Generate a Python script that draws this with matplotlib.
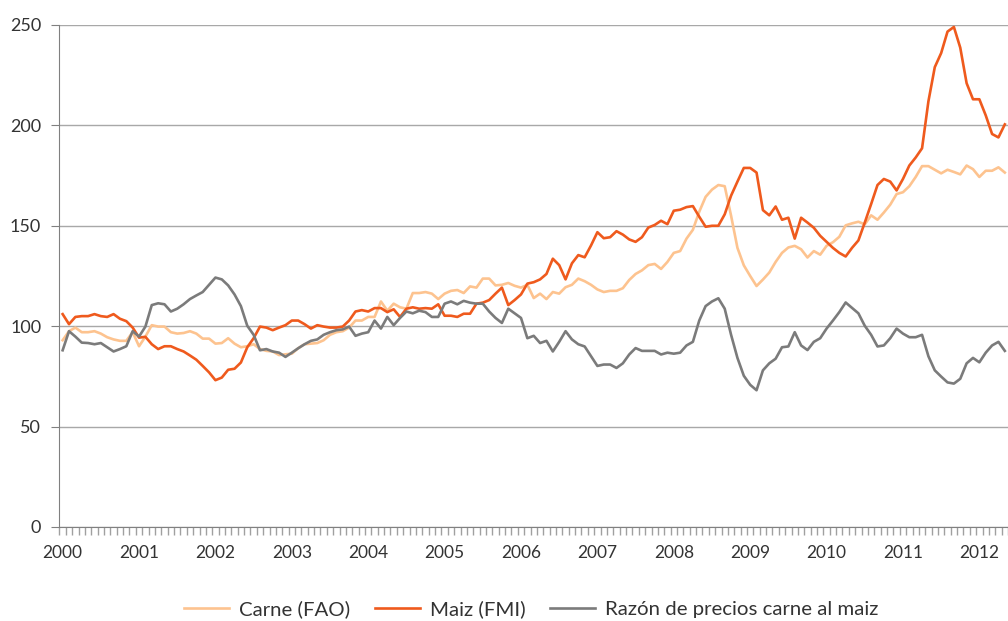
import numpy as np
import matplotlib
matplotlib.use("Agg")
import matplotlib.pyplot as plt

# indices mensuales, base enero 2000
carne = [93, 97.5, 99.3, 97, 97, 97.5, 96.3, 94.5, 93.4, 92.7,
         92.7, 97, 90, 94.8, 100.5, 99.8, 99.8, 97, 96.3, 96.6,
         97.5, 96.3, 93.8, 93.8, 91.3, 91.6, 94, 91.3, 89.5, 90,
         91, 88.6, 87.7, 87.4, 85.6, 86, 86.3, 89, 91, 91.3,
         91.6, 93, 95.7, 97,
         97.5, 99.3, 102.8, 102.8, 104.6, 104.6, 112.3, 107.7, 111.2, 109.4,
         108.7, 116.5, 116.5, 117, 116.2, 113.5, 116.2, 117.6, 118, 116.5,
         119.8, 119.2, 123.7, 123.7, 120.3, 120.6, 121.5, 120.1, 119.2, 120.6,
         114, 116.2, 113.5, 117, 116.2, 119.4, 120.6, 123.7, 122.4, 120.6,
         118.3, 117, 117.6, 117.6, 118.9, 123, 126, 127.8, 130.4, 131,
         128.5, 132,
         136.5, 137.4, 143.6, 148, 157, 164.4, 168, 170.3, 169.7, 155,
         139, 130.3, 125, 120, 123.2, 126.7, 132, 136.5, 139.2, 140,
         138.3, 134.2, 137.4, 135.6, 140, 141.8, 144.5, 150.2, 151.2, 152,
         150.7, 155.2, 153, 156.6, 160.5, 165.8, 166.7, 169.7, 174.3, 179.7,
         179.7, 177.9, 176.1, 177.9, 176.8, 175.6, 180, 178.2, 174.3, 177.4,
         177.4, 179.1, 176.5]

maiz = [106, 101, 104.6, 105, 105, 106, 105, 104.6, 106, 103.7,
        102.5, 99.3, 94.3, 94.7, 91, 88.6, 90, 90, 88.6, 87.4,
        85.4, 83.3, 80.2, 77, 73.1, 74.4, 78.3, 78.8, 81.9, 89.5,
        94, 99.8, 99.3, 98, 99.3, 100.5, 102.8, 102.8, 101, 98.8,
        100.5, 99.8, 99.3, 99.3,
        99.8, 102.8, 107.3, 108, 107.3, 109, 109, 107, 108.4, 104.6,
        108.7, 109.4, 108.7, 109, 108.7, 110.9, 105.2, 105.2, 104.6, 106.2,
        106.2, 111.2, 111.7, 113, 116.2, 119.2, 110.5, 113, 115.8, 121.2,
        121.9, 123.3, 126, 133.6, 130.4, 123.3, 131.3, 135.4, 134.3, 140.2,
        146.8, 143.8, 144.3, 147.3, 145.6, 143.2, 142, 144.3, 149.1, 150.4,
        152.5, 150.8,
        157.5, 158, 159.3, 159.8, 154.5, 149.5, 150, 150, 155.7, 165,
        172, 178.8, 178.8, 176.5, 157.8, 155.2, 159.6, 153, 154, 143.6,
        154, 151.6, 149, 145, 142, 139, 136.5, 134.7, 139, 142.7,
        151.6, 160.8, 170.3, 173.3, 172, 167.6, 173.3, 180, 184, 188.6,
        212, 229, 236, 246.7, 249, 238.7, 221, 213, 213, 205,
        195.7, 194, 200.5]

razon = [88, 97.5, 94.8, 91.8, 91.6, 91, 91.6, 89.5, 87.4, 88.6,
         90, 97.5, 94.8, 99.8, 110.5, 111.4, 110.9, 107.3, 108.7, 110.9,
         113.5, 115.3, 117, 120.6, 124.2, 123.3, 120.3, 115.8, 110, 100.2,
         95.7, 88, 88.6, 87.4, 86.8, 84.7, 86.8, 89, 91, 92.7,
         93.4, 95.7, 97, 98,
         98.4, 99.8, 95.2, 96.3, 97, 102.8, 98.8, 104.6, 100.5, 104.1,
         107.3, 106.4, 107.7, 107, 104.6, 104.6, 111.2, 112.3, 110.9, 112.6,
         111.7, 111.2, 111.2, 107.3, 104.1, 101.6, 108.7, 106.4, 104.1, 94,
         95.2, 91.6, 92.7, 87.4, 92.2, 97.5, 93.4, 91, 89.9, 85,
         80.2, 80.9, 80.9, 79.2, 81.5, 85.9, 89.1, 87.7, 87.7, 87.7,
         85.9, 86.8,
         86.3, 86.8, 90.4, 92.2, 102.8, 110, 112.3, 113.9, 108.7, 95.7,
         84.2, 75.3, 70.8, 68.1, 78, 81.5, 83.8, 89.5, 89.9, 97,
         90.4, 88.1, 92.2, 94, 98.8, 102.8, 107, 111.8, 109.1, 106.4,
         100.2, 95.7, 89.9, 90.4, 94, 98.8, 96.3, 94.5, 94.5, 95.7,
         85, 78, 74.9, 72, 71.4, 73.8, 81.5, 84.2, 82, 86.8,
         90.4, 92.2, 87.7]

years = list(range(2000, 2013))
labels = ["Carne (FAO)", "Maiz (FMI)", "Razón de precios carne al maiz"]

meses = np.arange(len(maiz))

plt.rcParams['font.family'] = ['Lato', 'DejaVu Sans']

fig = plt.figure(figsize=(10.08, 6.21), dpi=100)
ax = fig.add_axes([0.0588, 0.1514, 0.9412, 0.8084])

ax.plot(meses, carne, color="#fdc38f", lw=1.9, label=labels[0])
ax.plot(meses, maiz, color="#ef5a1d", lw=1.9, label=labels[1])
ax.plot(meses, razon, color="#7b7b7b", lw=1.9, label=labels[2])

ax.set_ylim(0, 250)
ax.set_xlim(-0.53, 148.2)
ax.set_yticks(np.arange(0, 251, 50))
ax.yaxis.grid(True, color="#a8a8a8", lw=1.0)
ax.set_axisbelow(True)

ax.set_xticks([12 * (y - 2000) for y in years])
ax.set_xticklabels([str(y) for y in years])
ax.set_xticks(np.arange(len(maiz) + 1) - 0.5, minor=True)
ax.tick_params(axis="x", which="major", length=0, pad=13, labelsize=12.5, labelcolor="#333333")
ax.tick_params(axis="x", which="minor", length=6, color="#a0a0a0", width=1)
ax.tick_params(axis="y", length=6, color="#808080", pad=7, labelsize=13, labelcolor="#333333")

for s in ["top", "right"]:
    ax.spines[s].set_visible(False)
ax.spines["left"].set_color("#808080")
ax.spines["bottom"].set_color("#808080")

fig.legend(loc="center", bbox_to_anchor=(0.527, 0.019), ncol=3, frameon=False,
           fontsize=14.7, handlelength=2.2, columnspacing=1.2, handletextpad=0.5,
           labelcolor="#333333")

fig.savefig("out.png", dpi=100)
